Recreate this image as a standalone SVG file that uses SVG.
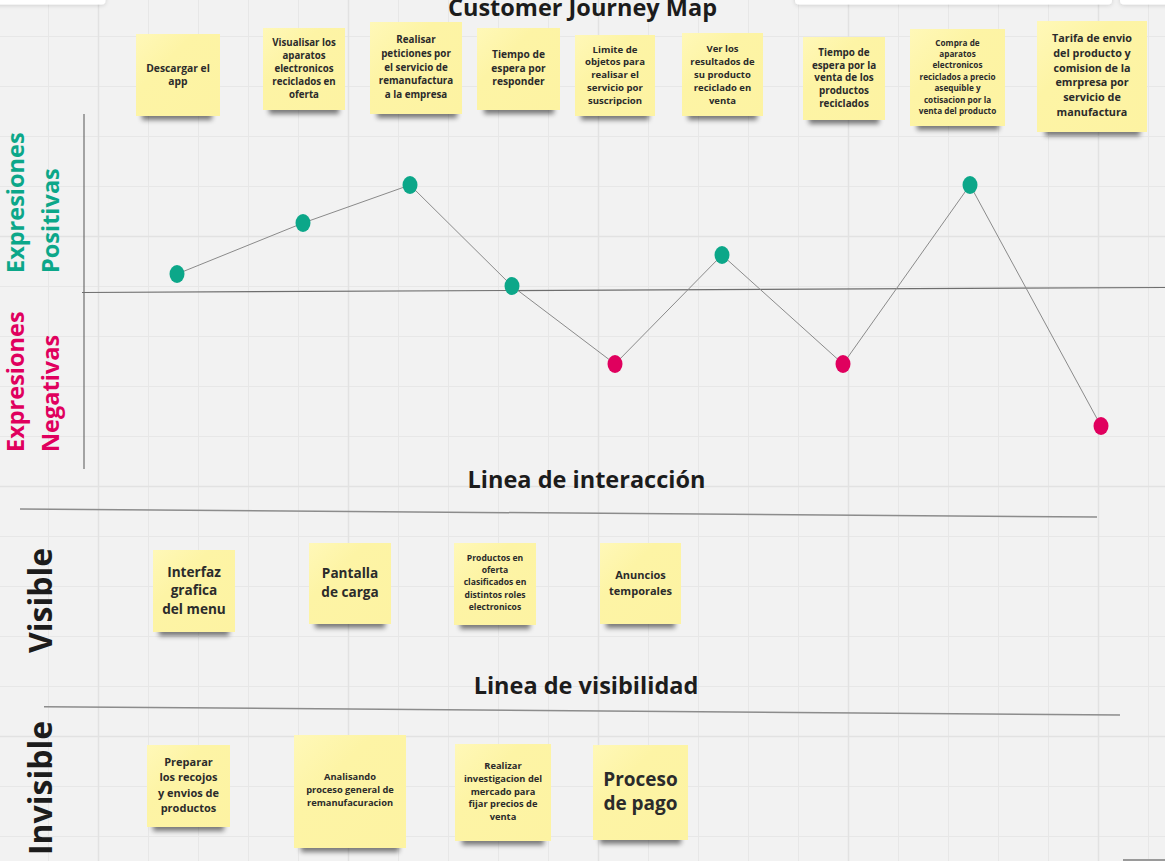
<svg xmlns="http://www.w3.org/2000/svg" width="1165" height="861" viewBox="0 0 1165 861">
<style>
text{font-family:"Open Sans","Noto Sans","Liberation Sans",sans-serif;font-weight:700}
.n{fill:#fdf4a5}
.sh{fill:#000;opacity:.5;filter:url(#blur)}
.t{fill:#2b2b2b;text-anchor:middle}
.h{fill:#1c1c1c;font-size:23.5px;text-anchor:middle}
.pos{fill:#0ca789}
.neg{fill:#e0005e}
.conn line{stroke:#8a8a8a;stroke-width:1}
.ax{stroke:#6e6e6e;stroke-width:1.2;fill:none}
.sep{stroke:#8c8c8c;stroke-width:1.5;fill:none}
</style>
<defs>
<filter id="blur" x="-20%" y="-100%" width="140%" height="300%"><feGaussianBlur stdDeviation="2.5"/></filter>
<filter id="psh" x="-10%" y="-50%" width="120%" height="300%"><feDropShadow dx="0" dy="1" stdDeviation="2" flood-opacity=".15"/></filter>
<linearGradient id="ng" x1="0" y1="0" x2="1" y2="1"><stop offset="0" stop-color="#fff8b8"/><stop offset=".35" stop-color="#fdf4a5"/><stop offset="1" stop-color="#fdf3a2"/></linearGradient>
</defs>
<rect width="1165" height="861" fill="#f2f2f2"/>
<g id="grid" fill="none">
<path stroke="#e7e7e7" stroke-width="1" d="M48.5 0V861M148.5 0V861M198.5 0V861M248.5 0V861M298.5 0V861M398.5 0V861M448.5 0V861M498.5 0V861M548.5 0V861M648.5 0V861M698.5 0V861M748.5 0V861M798.5 0V861M898.5 0V861M948.5 0V861M998.5 0V861M1048.5 0V861M1148.5 0V861M0 36.5H1165M0 86.5H1165M0 136.5H1165M0 186.5H1165M0 286.5H1165M0 336.5H1165M0 386.5H1165M0 436.5H1165M0 536.5H1165M0 586.5H1165M0 636.5H1165M0 686.5H1165M0 786.5H1165M0 836.5H1165"/>
<path stroke="#e2e2e2" stroke-width="1.5" d="M98.5 0V861M348.5 0V861M598.5 0V861M848.5 0V861M1098.5 0V861M0 236.5H1165M0 486.5H1165M0 736.5H1165"/>
</g>
<g id="ui" fill="#fff" filter="url(#psh)">
<rect x="-6" y="-10" width="111.5" height="14.5" rx="4"/>
<rect x="795" y="-10" width="317" height="14.5" rx="4"/>
<rect x="1120" y="-10" width="52" height="14.5" rx="4"/>
</g>
<rect x="1123" y="859" width="42" height="2" fill="#9a9a9a"/>
<text id="title" class="h" x="582.5" y="16">Customer Journey Map</text>
<g id="axes">
<path class="ax" d="M84 114V469"/>
<path class="ax" d="M82 292.5L1165 287.5"/>
</g>
<g id="labels">
<text class="pos" font-size="23.5" transform="translate(23.5,273) rotate(-90)">Expresiones</text>
<text class="pos" font-size="23.5" transform="translate(59,273) rotate(-90)">Positivas</text>
<text class="neg" font-size="23.5" transform="translate(23.5,452) rotate(-90)">Expresiones</text>
<text class="neg" font-size="23.5" transform="translate(59,452) rotate(-90)">Negativas</text>
<text fill="#1c1c1c" font-size="32" transform="translate(51.5,653) rotate(-90)">Visible</text>
<text fill="#1c1c1c" font-size="32" transform="translate(51.5,855) rotate(-90)">Invisible</text>
<text class="h" x="586.5" y="487.7">Linea de interacción</text>
<text class="h" x="586" y="693.5">Linea de visibilidad</text>
<path class="sep" d="M20 509L1097 517"/>
<path class="sep" d="M44 706.7L1120 715"/>
</g>
<g id="connectors" class="conn">
<line x1="177" y1="274" x2="303" y2="223"/>
<line x1="303" y1="223" x2="410" y2="185"/>
<line x1="410" y1="185" x2="512" y2="286"/>
<line x1="512" y1="286" x2="615" y2="364"/>
<line x1="615" y1="364" x2="722" y2="255"/>
<line x1="722" y1="255" x2="843" y2="364"/>
<line x1="843" y1="364" x2="970" y2="185"/>
<line x1="970" y1="185" x2="1101" y2="426"/>
</g>
<g id="points">
<ellipse id="p1" class="pos" cx="177" cy="274" rx="7.5" ry="9"/>
<ellipse id="p2" class="pos" cx="303" cy="223" rx="7.5" ry="9"/>
<ellipse id="p3" class="pos" cx="410" cy="185" rx="7.5" ry="9"/>
<ellipse id="p4" class="pos" cx="512" cy="286" rx="7.5" ry="9"/>
<ellipse id="p5" class="neg" cx="615" cy="364" rx="7.5" ry="9"/>
<ellipse id="p6" class="pos" cx="722" cy="255" rx="7.5" ry="9"/>
<ellipse id="p7" class="neg" cx="843" cy="364" rx="7.5" ry="9"/>
<ellipse id="p8" class="pos" cx="970" cy="185" rx="7.5" ry="9"/>
<ellipse id="p9" class="neg" cx="1101" cy="426" rx="7.5" ry="9"/>
</g>
<g id="note1">
<rect class="sh" x="142" y="106" width="70" height="14"/>
<rect fill="url(#ng)" x="136" y="34" width="84" height="82"/>
<text class="t" font-size="10.3"><tspan x="178" y="71.5">Descargar el</tspan><tspan x="178" y="85">app</tspan></text>
</g>
<g id="note2">
<rect class="sh" x="269" y="100" width="70" height="14"/>
<rect fill="url(#ng)" x="263" y="28" width="82" height="82"/>
<text class="t" font-size="9.7"><tspan x="304" y="46">Visualisar los</tspan><tspan x="304" y="59">aparatos</tspan><tspan x="304" y="72">electronicos</tspan><tspan x="304" y="85">reciclados en</tspan><tspan x="304" y="98">oferta</tspan></text>
</g>
<g id="note3">
<rect class="sh" x="377" y="104" width="80" height="14"/>
<rect fill="url(#ng)" x="370" y="22" width="92" height="92"/>
<text class="t" font-size="9.8"><tspan x="416" y="42.7">Realisar</tspan><tspan x="416" y="56.6">peticiones por</tspan><tspan x="416" y="70.5">el servicio de</tspan><tspan x="416" y="84.4">remanufactura</tspan><tspan x="416" y="98.3">a la empresa</tspan></text>
</g>
<g id="note4">
<rect class="sh" x="484" y="100" width="70" height="14"/>
<rect fill="url(#ng)" x="477" y="28" width="83" height="82"/>
<text class="t" font-size="10.2"><tspan x="518.5" y="58">Tiempo de</tspan><tspan x="518.5" y="71.7">espera por</tspan><tspan x="518.5" y="85.4">responder</tspan></text>
</g>
<g id="note5">
<rect class="sh" x="581" y="106" width="68" height="14"/>
<rect fill="url(#ng)" x="575" y="35" width="80" height="81"/>
<text class="t" font-size="9.6"><tspan x="615" y="52.5">Limite de</tspan><tspan x="615" y="65.3">objetos para</tspan><tspan x="615" y="78.1">realisar el</tspan><tspan x="615" y="90.9">servicio por</tspan><tspan x="615" y="103.7">suscripcion</tspan></text>
</g>
<g id="note6">
<rect class="sh" x="688" y="106" width="69" height="14"/>
<rect fill="url(#ng)" x="682" y="33" width="81" height="83"/>
<text class="t" font-size="9.5"><tspan x="722.5" y="52.4">Ver los</tspan><tspan x="722.5" y="65.2">resultados de</tspan><tspan x="722.5" y="78">su producto</tspan><tspan x="722.5" y="90.8">reciclado en</tspan><tspan x="722.5" y="103.6">venta</tspan></text>
</g>
<g id="note7">
<rect class="sh" x="809" y="110" width="70" height="14"/>
<rect fill="url(#ng)" x="803" y="37" width="82" height="83"/>
<text class="t" font-size="9.9"><tspan x="844" y="55.8">Tiempo de</tspan><tspan x="844" y="68.6">espera por la</tspan><tspan x="844" y="81.4">venta de los</tspan><tspan x="844" y="94.2">productos</tspan><tspan x="844" y="107">reciclados</tspan></text>
</g>
<g id="note8">
<rect class="sh" x="917" y="116" width="82" height="14"/>
<rect fill="url(#ng)" x="910" y="29" width="95" height="97"/>
<text class="t" font-size="8.2"><tspan x="957.5" y="45.6">Compra de</tspan><tspan x="957.5" y="57">aparatos</tspan><tspan x="957.5" y="68.4">electronicos</tspan><tspan x="957.5" y="79.8">reciclados a precio</tspan><tspan x="957.5" y="91.2">asequible y</tspan><tspan x="957.5" y="102.6">cotisacion por la</tspan><tspan x="957.5" y="114">venta del producto</tspan></text>
</g>
<g id="note9">
<rect class="sh" x="1045" y="122" width="95" height="14"/>
<rect fill="url(#ng)" x="1037" y="21" width="110" height="111"/>
<text class="t" font-size="10.8"><tspan x="1092" y="42">Tarifa de envio</tspan><tspan x="1092" y="56.8">del producto y</tspan><tspan x="1092" y="71.6">comision de la</tspan><tspan x="1092" y="86.4">emrpresa por</tspan><tspan x="1092" y="101.2">servicio de</tspan><tspan x="1092" y="116">manufactura</tspan></text>
</g>
<g id="vis1">
<rect class="sh" x="159" y="622" width="70" height="14"/>
<rect fill="url(#ng)" x="153" y="550" width="82" height="82"/>
<text class="t" font-size="13.6"><tspan x="194" y="576.5">Interfaz</tspan><tspan x="194" y="595">grafica</tspan><tspan x="194" y="613.5">del menu</tspan></text>
</g>
<g id="vis2">
<rect class="sh" x="315" y="614" width="70" height="14"/>
<rect fill="url(#ng)" x="309" y="543" width="82" height="81"/>
<text class="t" font-size="13.6"><tspan x="350" y="577.7">Pantalla</tspan><tspan x="350" y="597.2">de carga</tspan></text>
</g>
<g id="vis3">
<rect class="sh" x="460" y="615" width="70" height="14"/>
<rect fill="url(#ng)" x="454" y="543" width="82" height="82"/>
<text class="t" font-size="8.6"><tspan x="495" y="560.7">Productos en</tspan><tspan x="495" y="573">oferta</tspan><tspan x="495" y="585.3">clasificados en</tspan><tspan x="495" y="597.6">distintos roles</tspan><tspan x="495" y="609.9">electronicos</tspan></text>
</g>
<g id="vis4">
<rect class="sh" x="606" y="614" width="69" height="14"/>
<rect fill="url(#ng)" x="600" y="543" width="81" height="81"/>
<text class="t" font-size="11"><tspan x="640.5" y="579">Anuncios</tspan><tspan x="640.5" y="594.5">temporales</tspan></text>
</g>
<g id="inv1">
<rect class="sh" x="153" y="817" width="71" height="14"/>
<rect fill="url(#ng)" x="147" y="745" width="83" height="82"/>
<text class="t" font-size="11"><tspan x="188.5" y="765.5">Preparar</tspan><tspan x="188.5" y="781">los recojos</tspan><tspan x="188.5" y="796.5">y envios de</tspan><tspan x="188.5" y="812">productos</tspan></text>
</g>
<g id="inv2">
<rect class="sh" x="301" y="838" width="98" height="14"/>
<rect fill="url(#ng)" x="294" y="735" width="112" height="113"/>
<text class="t" font-size="9.3"><tspan x="350" y="780">Analisando</tspan><tspan x="350" y="793">proceso general de</tspan><tspan x="350" y="806">remanufacuracion</tspan></text>
</g>
<g id="inv3">
<rect class="sh" x="462" y="831" width="82" height="14"/>
<rect fill="url(#ng)" x="455" y="744" width="96" height="97"/>
<text class="t" font-size="9.3"><tspan x="503" y="769">Realizar</tspan><tspan x="503" y="781.8">investigacion del</tspan><tspan x="503" y="794.6">mercado para</tspan><tspan x="503" y="807.4">fijar precios de</tspan><tspan x="503" y="820.2">venta</tspan></text>
</g>
<g id="inv4">
<rect class="sh" x="600" y="830" width="81" height="14"/>
<rect fill="url(#ng)" x="593" y="745" width="95" height="95"/>
<text class="t" font-size="19"><tspan x="640.5" y="786">Proceso</tspan><tspan x="640.5" y="810">de pago</tspan></text>
</g>
</svg>
